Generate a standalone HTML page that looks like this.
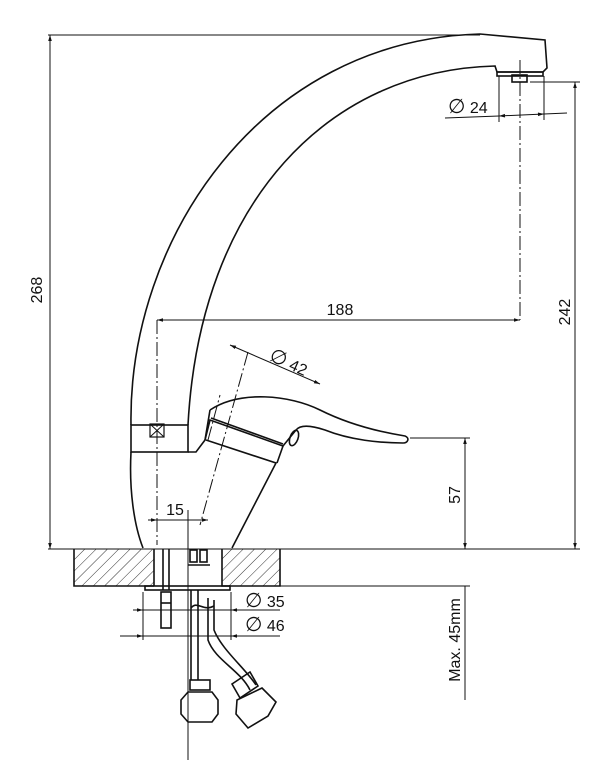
<!DOCTYPE html>
<html><head><style>
html,body{margin:0;padding:0;background:#fff;}
svg{display:block;}
text{font-family:"Liberation Sans",sans-serif;font-size:16px;fill:#111;}
.d{font-size:20px;font-family:"DejaVu Sans",sans-serif;}
</style></head><body>
<svg width="614" height="768" viewBox="0 0 614 768" xmlns="http://www.w3.org/2000/svg">
<defs>
<pattern id="h" width="8" height="8" patternUnits="userSpaceOnUse" patternTransform="rotate(45)">
<line x1="0" y1="0" x2="0" y2="8" stroke="#333" stroke-width="1"/>
</pattern>
<marker id="a" viewBox="0 0 10 10" refX="10" refY="5" markerWidth="10" markerHeight="6" orient="auto-start-reverse" markerUnits="userSpaceOnUse">
<path d="M0,2 L10,5 L0,8 z" fill="#111"/>
</marker>
</defs>
<g fill="none" stroke="#111" stroke-width="1.6">
<path d="M131,425 C128,240 260,40 480,34 L545,40 L547,68 L543,72 L497,72 L495,66 C330,70 200,200 188,425"/>
<rect x="497" y="72" width="46" height="4"/>
<rect x="512" y="75" width="15" height="7"/>
<rect x="131" y="425" width="57" height="27"/>
<rect x="150" y="424" width="14" height="13" stroke-width="1.2"/>
<path d="M150,424 L164,437 M164,424 L150,437" stroke-width="1"/>
<path d="M131,452 C129,490 134,525 143,548"/>
<path d="M188,452 L196,452 L205,440 L210,410"/>
<path d="M206,440 L276,463 L232,548"/>
<path d="M205,440 L210,420 L283,446 L277,463"/>
<path d="M210,410 C240,390 290,395 320,410 C350,425 380,432 405,436 C410,438 408,443 403,443 C380,443 350,440 325,430 C310,425 300,425 296,430 L283,446"/>
<path d="M211,418 L283,444"/>
<ellipse cx="294" cy="438" rx="4" ry="8" transform="rotate(20 294 438)"/>
<rect x="74" y="549" width="80" height="37" fill="url(#h)" stroke="none"/>
<rect x="222" y="549" width="58" height="37" fill="url(#h)" stroke="none"/>
<path d="M74,549 L74,586 L154,586 M154,549 L154,586 M222,549 L222,586 L280,586 L280,549"/>
<path d="M163,549 L163,590 M169,549 L169,590"/>
<rect x="190" y="550" width="7" height="12"/>
<rect x="200" y="550" width="7" height="12"/>
<path d="M188,565 L210,565"/>
<rect x="145" y="586" width="85" height="4"/>
<rect x="161" y="592" width="10" height="36"/>
<path d="M161,603 L171,603"/>
<path d="M191,590 L191,680 M198,590 L198,680 M208,598 L208,640 C215,660 240,670 250,690 M214,600 L214,630 C222,650 245,668 256,685"/>
<path d="M191,608 C197,600 203,612 214,606"/>
<rect x="190" y="680" width="20" height="10"/>
<path d="M181,714 L181,700 L188,692 L212,692 L218,700 L218,714 L212,722 L188,722 Z"/>
<path d="M232,684 L250,672 L258,686 L240,698 Z"/>
<path d="M237,700 L236,714 L248,728 L268,716 L276,702 L262,688 Z"/>
</g>
<g stroke="#111" stroke-width="1" fill="none">
<path d="M48,35 L480,35 M48,549 L580,549 M280,586 L470,586 M530,82 L580,82 M410,438 L470,438"/>
<path d="M157,320 L157,545 M520,60 L520,320" stroke-dasharray="14,3,2,3"/>
<path d="M248,352 L200,525 M208,440 L220,395" stroke-dasharray="14,3,2,3"/>
<path d="M50,35 L50,549" marker-start="url(#a)" marker-end="url(#a)"/>
<path d="M575,82 L575,549" marker-start="url(#a)" marker-end="url(#a)"/>
<path d="M157,320 L520,320" marker-start="url(#a)" marker-end="url(#a)"/>
<path d="M445,118 L499,116"/><path d="M499,116 L544,114" marker-start="url(#a)" marker-end="url(#a)"/><path d="M544,114 L567,113"/>
<path d="M499,76 L499,122 M544,76 L544,120"/>
<path d="M230,345 L320,384" marker-start="url(#a)" marker-end="url(#a)"/>
<path d="M465,438 L465,549" marker-start="url(#a)" marker-end="url(#a)"/>
<path d="M465,586 L465,700"/>
<path d="M148,520 L157,520" marker-end="url(#a)"/><path d="M157,520 L188,520"/><path d="M188,520 L208,520" marker-end="url(#a)"/>
<path d="M188,510 L188,760"/>
<path d="M133,610 L143,610" marker-end="url(#a)"/><path d="M143,610 L231,610"/><path d="M240,610 L231,610" marker-end="url(#a)"/><path d="M240,610 L280,610"/>
<path d="M120,636 L143,636" marker-end="url(#a)"/><path d="M143,636 L231,636"/><path d="M250,636 L231,636" marker-end="url(#a)"/><path d="M250,636 L280,636"/>
<path d="M143,592 L143,640 M231,592 L231,640"/>
</g>
<text x="42" y="290" transform="rotate(-90 42 290)" text-anchor="middle">268</text>
<text x="570" y="312" transform="rotate(-90 570 312)" text-anchor="middle">242</text>
<text x="340" y="315" text-anchor="middle">188</text>
<text x="448" y="113"><tspan class="d">∅</tspan> 24</text>
<text x="268" y="360" transform="rotate(24 268 360)"><tspan class="d">∅</tspan> 42</text>
<text x="460" y="495" transform="rotate(-90 460 495)" text-anchor="middle">57</text>
<text x="175" y="515" text-anchor="middle">15</text>
<text x="245" y="607"><tspan class="d">∅</tspan> 35</text>
<text x="245" y="631"><tspan class="d">∅</tspan> 46</text>
<text x="460" y="640" transform="rotate(-90 460 640)" text-anchor="middle">Max. 45mm</text>
</svg>
</body></html>
